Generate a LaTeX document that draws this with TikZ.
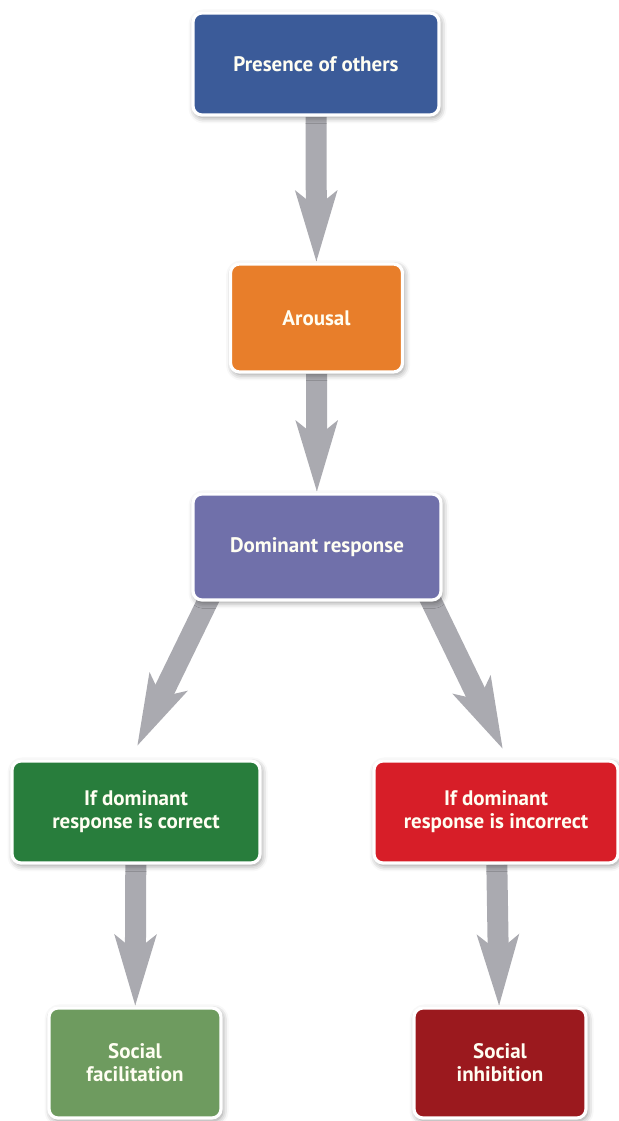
\documentclass[tikz,border=0pt]{standalone}
\usepackage{fontspec}
\setmainfont{PT Sans}
\usetikzlibrary{arrows.meta,shadows.blur,backgrounds}
\definecolor{presblue}{RGB}{59,91,153}
\definecolor{arousorange}{RGB}{232,126,42}
\definecolor{dompurple}{RGB}{112,112,170}
\definecolor{corrgreen}{RGB}{40,125,60}
\definecolor{incorrred}{RGB}{215,30,40}
\definecolor{facilgreen}{RGB}{110,155,95}
\definecolor{inhibred}{RGB}{155,25,30}
\definecolor{arrowgray}{RGB}{170,170,176}
\tikzset{
  box/.style={draw=white, line width=1.6pt, rounded corners=4.5pt, text=white!95!yellow,
    font=\fontsize{10.5}{11.5}\selectfont\bfseries, align=center, inner sep=0pt,
    blur shadow={shadow xshift=0.8pt, shadow yshift=-1.2pt, shadow blur radius=3pt, shadow opacity=45}},
  flow/.style={draw=arrowgray, line width=10.5pt,
    -{Stealth[length=35pt, width=20pt, inset=7.5pt]}}
}
\begin{document}
\begin{tikzpicture}[x=0.5pt, y=-0.5pt]
\useasboundingbox (0,0) rectangle (619,1121);
% Main chain
\node[box, fill=presblue, minimum width=123pt, minimum height=51pt] (pres) at (316,64) {Presence of others};
\node[box, fill=arousorange, minimum width=86pt, minimum height=54pt] (arousal) at (316.5,318) {Arousal};
\node[box, fill=dompurple, minimum width=124pt, minimum height=53pt] (dom) at (317,547) {Dominant response};
% Branches
\node[box, fill=corrgreen, minimum width=124pt, minimum height=51pt] (corr) at (136,812) {If dominant\\response is correct};
\node[box, fill=incorrred, minimum width=122pt, minimum height=51pt] (incorr) at (496,812) {If dominant\\response is incorrect};
\node[box, fill=facilgreen, minimum width=86pt, minimum height=55pt] (facil) at (135,1063) {Social\\facilitation};
\node[box, fill=inhibred, minimum width=86pt, minimum height=55pt] (inhib) at (500,1063) {Social\\inhibition};
% Arrows
\begin{scope}[on background layer]
  \draw[flow] (pres) -- (arousal);
  \draw[flow] (arousal) -- (dom);
  \draw[flow] ([xshift=10pt, yshift=4pt]dom.south west) -- ([xshift=0.5pt, yshift=6.5pt]corr.north);
  \draw[flow] ([xshift=-7.5pt, yshift=4pt]dom.south east) -- ([xshift=3.5pt, yshift=5pt]incorr.north);
  \draw[flow] (corr) -- (facil);
  \draw[flow] (incorr) -- (inhib);
\end{scope}
\end{tikzpicture}
\end{document}
